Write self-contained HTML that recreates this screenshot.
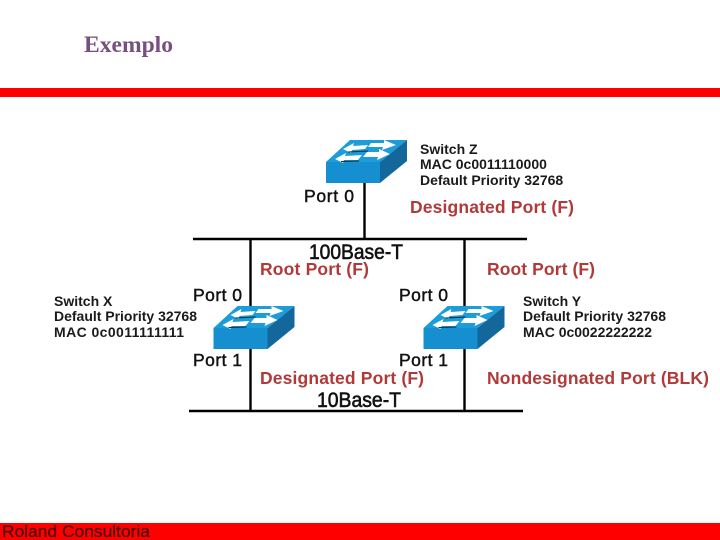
<!DOCTYPE html>
<html><head><meta charset="utf-8"><style>
html,body{margin:0;padding:0;background:#fff}
svg{display:block}
text{font-family:"Liberation Sans",sans-serif}
.b{font-weight:bold;font-size:14px;fill:#1a1a1a}
.p{font-size:17.5px;fill:#111;stroke:#111;stroke-width:.45px}
.r{font-weight:bold;font-size:17.5px;fill:#b03a3a}
.h{font-size:21px;fill:#111;stroke:#111;stroke-width:.6px}
</style></head><body>
<svg width="720" height="540" viewBox="0 0 720 540" xmlns="http://www.w3.org/2000/svg">
<defs>
<g id="sw">
<polygon points="0,22 24,0 81,0 54,22" fill="#1c9cd8"/>
<polygon points="0,22 54,22 54,43 0,43" fill="#158fd0"/>
<polygon points="54,22 81,0 81,21 54,43" fill="#13679a"/>
<path d="M17,9 L28,3 L27,6 L42,5 L39,9 L26,10 L25,13 Z" fill="#fff"/>
<path d="M70,5 L58,0 L58,3 L45,3 L42,7 L57,7 L56,10 Z" fill="#fff"/>
<path d="M9,19 L20,13 L19,16 L36,15 L32,20 L18,20 L17,23 Z" fill="#fff"/>
<path d="M64,14 L53,9 L53,12 L41,12 L37,17 L52,17 L51,20 Z" fill="#fff"/>
<path d="M22,12 L42,11 M15,21.500 L33,21" stroke="#0b2a3f" stroke-width="1" fill="none"/>
</g>
</defs>
<rect width="720" height="540" fill="#fff"/>
<text x="84" y="52" textLength="89" lengthAdjust="spacingAndGlyphs" style="font-family:'Liberation Serif',serif;font-weight:bold;font-size:23.500px;fill:#77507f">Exemplo</text>
<rect x="0" y="88" width="720" height="9" fill="#f00"/>
<rect x="0" y="523" width="720" height="17" fill="#f00"/>
<text x="2" y="537" textLength="148" lengthAdjust="spacingAndGlyphs" style="font-size:16.500px;fill:#4a0000;stroke:#4a0000;stroke-width:.2px">Roland Consultoria</text>

<g stroke="#000" stroke-width="2.400" fill="none">
<path d="M364.500,182V239M193,239H527M250.500,239V411M464.500,239V411M189,411H523"/>
</g>
<use href="#sw" x="326" y="140"/>
<use href="#sw" x="213.500" y="306"/>
<use href="#sw" x="423.500" y="306"/>

<text class="b" x="420" y="154">Switch Z</text>
<text class="b" x="420" y="169">MAC 0c0011110000</text>
<text class="b" x="420" y="185">Default Priority 32768</text>
<text class="p" x="304" y="202" textLength="50">Port 0</text>
<text class="r" x="410" y="213" textLength="164">Designated Port (F)</text>
<text class="h" x="309" y="259" textLength="94" lengthAdjust="spacingAndGlyphs">100Base-T</text>
<text class="r" x="260" y="275" textLength="109">Root Port (F)</text>
<text class="r" x="487" y="275" textLength="108">Root Port (F)</text>

<text class="p" x="193" y="301" textLength="49">Port 0</text>
<text class="p" x="399" y="301" textLength="49">Port 0</text>
<text class="b" x="54" y="306">Switch X</text>
<text class="b" x="54" y="321" textLength="143">Default Priority 32768</text>
<text class="b" x="54" y="337" textLength="130">MAC 0c0011111111</text>
<text class="b" x="523" y="306">Switch Y</text>
<text class="b" x="523" y="321" textLength="143">Default Priority 32768</text>
<text class="b" x="523" y="337" textLength="129">MAC 0c0022222222</text>

<text class="p" x="193" y="366" textLength="49">Port 1</text>
<text class="p" x="399" y="366" textLength="49">Port 1</text>
<text class="r" x="260" y="384" textLength="164">Designated Port (F)</text>
<text class="r" x="487" y="384" textLength="222">Nondesignated Port (BLK)</text>
<text class="h" x="317" y="407" textLength="84" lengthAdjust="spacingAndGlyphs">10Base-T</text>
</svg>
</body></html>
